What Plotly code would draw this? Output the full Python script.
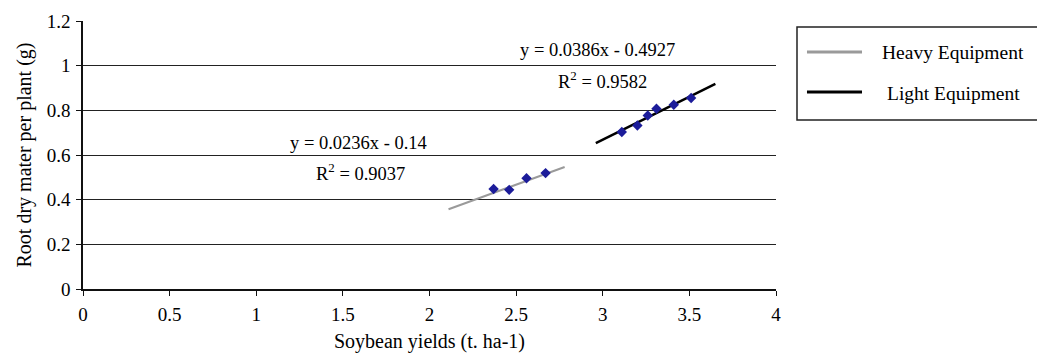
import plotly.graph_objects as go

# ---- data ----
heavy_x = [2.37, 2.46, 2.56, 2.67]
heavy_y = [0.448, 0.444, 0.496, 0.519]
light_x = [3.11, 3.20, 3.26, 3.31, 3.41, 3.51]
light_y = [0.703, 0.732, 0.777, 0.807, 0.825, 0.855]

# trend line end points (as drawn in the picture)
heavy_trend_x = [2.11, 2.78]
heavy_trend_y = [0.357, 0.546]
light_trend_x = [2.96, 3.65]
light_trend_y = [0.653, 0.919]

series_names = ["Heavy Equipment", "Light Equipment"]
heavy_eq = ["y = 0.0236x - 0.14", "R<sup>2</sup> = 0.9037"]
light_eq = ["y = 0.0386x - 0.4927", "R<sup>2</sup> = 0.9582"]

x_ticks = [0, 0.5, 1, 1.5, 2, 2.5, 3, 3.5, 4]
y_ticks = [0, 0.2, 0.4, 0.6, 0.8, 1, 1.2]

FONT = "Liberation Serif, Times New Roman, DejaVu Serif, serif"
HEAVY_COLOR = "#9a9a9a"
LIGHT_COLOR = "#000000"
POINT_COLOR = "#1c1c9a"

fig = go.Figure()

fig.add_trace(go.Scatter(x=heavy_trend_x, y=heavy_trend_y, mode="lines",
                         line=dict(color=HEAVY_COLOR, width=2),
                         name=series_names[0], showlegend=False))
fig.add_trace(go.Scatter(x=light_trend_x, y=light_trend_y, mode="lines",
                         line=dict(color=LIGHT_COLOR, width=2.5),
                         name=series_names[1], showlegend=False))
fig.add_trace(go.Scatter(x=heavy_x, y=heavy_y, mode="markers",
                         marker=dict(symbol="diamond", size=8, color=POINT_COLOR),
                         showlegend=False))
fig.add_trace(go.Scatter(x=light_x, y=light_y, mode="markers",
                         marker=dict(symbol="diamond", size=8, color=POINT_COLOR),
                         showlegend=False))

# equations
ann = [
    dict(x=1.59, y=0.655, text=heavy_eq[0]),
    dict(x=1.60, y=0.525, text=heavy_eq[1]),
    dict(x=2.97, y=1.072, text=light_eq[0]),
    dict(x=3.00, y=0.935, text=light_eq[1]),
]
for a in ann:
    fig.add_annotation(x=a["x"], y=a["y"], text=a["text"], showarrow=False,
                       xref="x", yref="y", xanchor="center", yanchor="middle",
                       font=dict(family=FONT, size=18.5, color="#000"))

# manual legend (box, line samples, labels) in paper coords
fig.add_shape(type="rect", xref="paper", yref="paper",
              x0=1.0303, x1=1.3824, y0=0.6306, y1=0.9776,
              line=dict(color="#222", width=1.5), fillcolor="white")
fig.add_shape(type="line", xref="paper", yref="paper",
              x0=1.0447, x1=1.1241, y0=0.8843, y1=0.8843,
              line=dict(color=HEAVY_COLOR, width=3))
fig.add_shape(type="line", xref="paper", yref="paper",
              x0=1.0447, x1=1.1241, y0=0.7351, y1=0.7351,
              line=dict(color=LIGHT_COLOR, width=3))
fig.add_annotation(x=1.1501, y=0.8843, xref="paper", yref="paper", text=series_names[0],
                   showarrow=False, xanchor="left", yanchor="middle",
                   font=dict(family=FONT, size=19.5, color="#000"))
fig.add_annotation(x=1.1573, y=0.7280, xref="paper", yref="paper", text=series_names[1],
                   showarrow=False, xanchor="left", yanchor="middle",
                   font=dict(family=FONT, size=19.5, color="#000"))

# page body has an 8px margin, so the figure is 8px smaller and shifted
fig.update_layout(
    width=1037, height=350,
    margin=dict(l=75, r=269, t=13, b=69),
    paper_bgcolor="white", plot_bgcolor="white",
    font=dict(family=FONT, size=19, color="#000"),
    showlegend=False,
)
fig.update_xaxes(range=[0, 4], tickvals=x_ticks, ticktext=[f"{v:g}" for v in x_ticks],
                 showgrid=False, zeroline=False, showline=True, linecolor="#111", linewidth=1.5,
                 ticks="outside", ticklen=5, tickcolor="#111", automargin=False,
                 ticklabelstandoff=2,
                 title=dict(text="Soybean yields (t. ha-1)", standoff=10,
                            font=dict(family=FONT, size=20)),
                 tickfont=dict(family=FONT, size=19))
fig.update_yaxes(range=[0, 1.2], tickvals=y_ticks, ticktext=[f"{v:g}" for v in y_ticks],
                 showgrid=True, gridcolor="#222", gridwidth=1.2, zeroline=False,
                 showline=True, linecolor="#111", linewidth=1.5,
                 ticks="outside", ticklen=5, tickcolor="#111", automargin=False,
                 ticklabelstandoff=2,
                 title=dict(text="Root dry mater per plant (g)", standoff=10,
                            font=dict(family=FONT, size=20)),
                 tickfont=dict(family=FONT, size=19))

fig.write_html("out.html")
